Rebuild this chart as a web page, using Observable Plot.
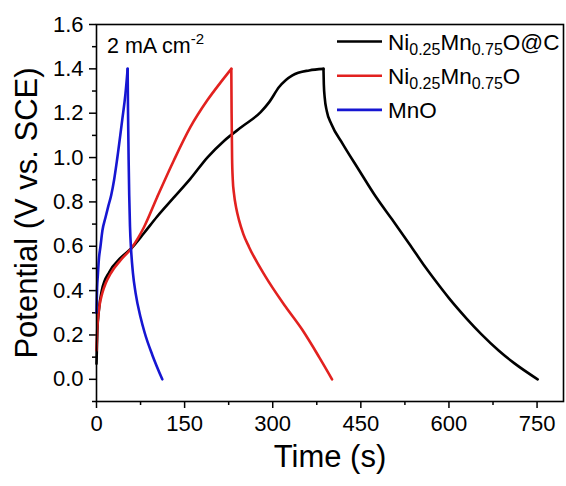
<!DOCTYPE html>
<html><head><meta charset="utf-8">
<script src="https://cdn.jsdelivr.net/npm/d3@7"></script>
<script src="https://cdn.jsdelivr.net/npm/@observablehq/plot@0.6"></script>
<style>
html,body{margin:0;padding:0;background:#fff;overflow:hidden}
#wrap{width:566px;height:486px}
</style></head>
<body><div id="wrap"></div>
<script>
// ---- data ----
const seriesNames = ["Ni0.25Mn0.75O@C", "Ni0.25Mn0.75O", "MnO"];
const seriesColors = ["#000000", "#e2211f", "#1616d2"];

const nmcCChargeT = [0, 1.5, 4, 9, 22, 40, 59, 81, 103, 131.8, 160, 188.6, 217, 248, 279.5, 294, 310.8, 333.5, 362, 386.4];
const nmcCChargeV = [0.07, 0.22, 0.31, 0.40, 0.485, 0.545, 0.59, 0.66, 0.733, 0.82, 0.905, 1.0, 1.075, 1.14, 1.205, 1.25, 1.318, 1.371, 1.393, 1.40];
const nmcCDischT = [386.4, 387, 388.5, 392, 400, 418.8, 447, 475.6, 504, 532, 560, 580, 600, 630, 655, 685, 711, 751];
const nmcCDischV = [1.40, 1.33, 1.27, 1.21, 1.15, 1.063, 0.943, 0.823, 0.718, 0.613, 0.505, 0.434, 0.366, 0.274, 0.204, 0.129, 0.073, 0.0];

const nmcChargeT = [0, 1, 2.3, 5, 9.7, 16, 24, 41, 59, 81, 103, 131.8, 160, 188.6, 214, 229.5];
const nmcChargeV = [0.13, 0.21, 0.267, 0.33, 0.387, 0.435, 0.477, 0.537, 0.59, 0.687, 0.82, 0.988, 1.138, 1.258, 1.348, 1.40];
const nmcDischT = [229.5, 230, 230.8, 232, 234, 238, 242.6, 250, 259.6, 288, 322, 350.6, 379, 401];
const nmcDischV = [1.40, 1.2, 1.0, 0.9, 0.838, 0.77, 0.718, 0.655, 0.597, 0.462, 0.327, 0.222, 0.10, 0.0];

const mnoChargeT = [0, 0.5, 1, 2.3, 4, 6.8, 10, 15.3, 20, 25, 30, 35, 43.8, 49.4, 53];
const mnoChargeV = [0.30, 0.36, 0.41, 0.47, 0.54, 0.60, 0.67, 0.73, 0.78, 0.83, 0.90, 0.99, 1.17, 1.29, 1.40];
const mnoDischT = [53, 53.7, 54.7, 55.7, 57, 59, 62, 66.5, 75, 82, 95, 112];
const mnoDischV = [1.40, 1.2, 0.99, 0.83, 0.69, 0.58, 0.48, 0.39, 0.28, 0.21, 0.11, 0.0];

const xTicks = [0, 150, 300, 450, 600, 750];
const xMinorTicks = [75, 225, 375, 525, 675];
const yTicks = [0.0, 0.2, 0.4, 0.6, 0.8, 1.0, 1.2, 1.4, 1.6];
const yMinorTicks = [-0.1, 0.1, 0.3, 0.5, 0.7, 0.9, 1.1, 1.3, 1.5];
const xDomain = [0, 795];
const yDomain = [-0.1, 1.6];

const xLabel = "Time (s)";
const yLabel = "Potential (V vs. SCE)";
const annotationMain = "2 mA cm";
const annotationSup = "-2";

// ---- build rows ----
const segments = [
  [0, "charge", nmcCChargeT, nmcCChargeV],
  [0, "discharge", nmcCDischT, nmcCDischV],
  [1, "charge", nmcChargeT, nmcChargeV],
  [1, "discharge", nmcDischT, nmcDischV],
  [2, "charge", mnoChargeT, mnoChargeV],
  [2, "discharge", mnoDischT, mnoDischV]
];
const rows = [];
for (const [s, phase, T, V] of segments) {
  T.forEach((t, i) => rows.push({t, v: V[i], series: seriesNames[s], seg: seriesNames[s] + "-" + phase, color: seriesColors[s]}));
}

const font = "Arial, 'Liberation Sans', sans-serif";
const plot = Plot.plot({
  width: 566, height: 486,
  marginLeft: 96, marginRight: 3, marginTop: 24, marginBottom: 85,
  style: {fontFamily: font, fontSize: "22px", color: "#000", background: "#fff", overflow: "visible"},
  x: {domain: xDomain},
  y: {domain: yDomain},
  marks: [
    Plot.axisX({ticks: xTicks, tickSize: 7, tickPadding: 7, fontSize: 22, strokeWidth: 1.5, label: null, tickFormat: d3.format("d")}),
    Plot.axisX({ticks: xMinorTicks, tickSize: 4, strokeWidth: 1.5, label: null, tickFormat: () => ""}),
    Plot.axisY({ticks: yTicks, tickSize: 7, tickPadding: 6, fontSize: 22, strokeWidth: 1.5, label: null, tickFormat: d3.format(".1f")}),
    Plot.axisY({ticks: yMinorTicks, tickSize: 4, strokeWidth: 1.5, label: null, tickFormat: () => ""}),
    Plot.line(rows, {x: "t", y: "v", z: "seg", stroke: "color", strokeWidth: 2.6, curve: "monotone-x"}),
    Plot.frame({stroke: "#000", strokeWidth: 1.6}),
    Plot.text([xLabel], {frameAnchor: "bottom", dy: 65, fontSize: 31, fill: "#000", textAnchor: "middle"}),
    Plot.text([yLabel], {frameAnchor: "left", dx: -69, rotate: -90, fontSize: 31, fill: "#000", textAnchor: "middle"})
  ]
});

const svg = d3.select(plot);

// annotation and legend (inside the frame) as real SVG text
const ann = svg.append("text").attr("x", 107).attr("y", 53).attr("text-anchor", "start")
  .attr("font-family", font).attr("font-size", 21.5).attr("fill", "#000");
ann.append("tspan").text(annotationMain);
ann.append("tspan").attr("dy", -9).attr("font-size", 15).text(annotationSup);

const legendRows = [
  {parts: [["Ni", 0], ["0.25", 1], ["Mn", 0], ["0.75", 1], ["O@C", 0]]},
  {parts: [["Ni", 0], ["0.25", 1], ["Mn", 0], ["0.75", 1], ["O", 0]]},
  {parts: [["MnO", 0]]}
];
const lg = svg.append("g").attr("font-family", font).attr("fill", "#000").attr("text-anchor", "start");
legendRows.forEach((r, i) => {
  const ly = 41.5 + i * 34.2;
  lg.append("line").attr("x1", 337).attr("x2", 382).attr("y1", ly).attr("y2", ly)
    .attr("stroke", seriesColors[i]).attr("stroke-width", 2.6);
  const tx = lg.append("text").attr("x", 388).attr("y", ly + 8.5).attr("font-size", 22.5).attr("text-anchor", "start");
  let shifted = false;
  r.parts.forEach(([s, sub]) => {
    const ts = tx.append("tspan").text(s);
    if (sub && !shifted) { ts.attr("dy", 5).attr("font-size", 16); shifted = true; }
    else if (!sub && shifted) { ts.attr("dy", -5); shifted = false; }
    else if (sub) ts.attr("font-size", 16);
  });
});

document.getElementById("wrap").appendChild(plot);
</script>
</body></html>
